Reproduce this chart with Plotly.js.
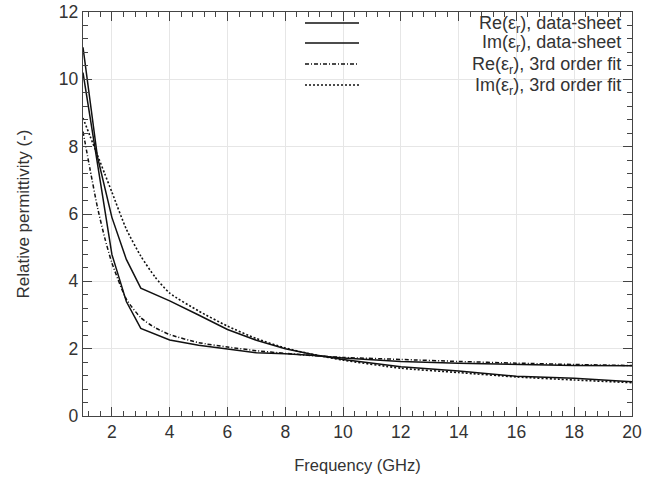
<!DOCTYPE html>
<html>
<head>
<meta charset="utf-8">
<script src="https://cdn.plot.ly/plotly-3.0.1.min.js"></script>
<style>html,body{margin:0;padding:0;background:#fff;}#chart{width:665px;height:487px;}</style>
</head>
<body>
<div id="chart"></div>
<script>
// Data-sheet values
const freqSheet = [1, 1.5, 2, 2.5, 3, 4, 5, 6, 7, 8, 9, 10, 12, 14, 16, 18, 20];
const reSheet   = [10.2, 7.5, 4.8, 3.4, 2.6, 2.26, 2.1, 1.99, 1.88, 1.85, 1.8, 1.72, 1.62, 1.57, 1.53, 1.5, 1.49];
const imSheet   = [10.95, 7.7, 5.9, 4.65, 3.8, 3.42, 3.0, 2.57, 2.25, 2.0, 1.82, 1.68, 1.46, 1.34, 1.18, 1.12, 1.02];
// 3rd order fit values
const freqFit = [1, 1.25, 1.5, 1.75, 2, 2.5, 3, 3.5, 4, 5, 6, 7, 8, 9, 10, 12, 14, 16, 18, 20];
const reFit   = [8.45, 7.3, 6.2, 5.3, 4.55, 3.47, 2.92, 2.62, 2.42, 2.18, 2.05, 1.94, 1.86, 1.79, 1.74, 1.68, 1.62, 1.57, 1.53, 1.5];
const imFit   = [8.85, 8.3, 7.75, 7.2, 6.65, 5.55, 4.75, 4.12, 3.65, 3.12, 2.67, 2.3, 2.02, 1.82, 1.66, 1.42, 1.29, 1.16, 1.07, 0.99];
// Labels
const seriesNames = [
  'Re(ε<sub>r</sub>), data-sheet',
  'Im(ε<sub>r</sub>), data-sheet',
  'Re(ε<sub>r</sub>), 3rd order fit',
  'Im(ε<sub>r</sub>), 3rd order fit'
];
const xTitle = 'Frequency (GHz)';
const yTitle = 'Relative permittivity (-)';

const dashes = ['solid', 'solid', '4px,2px,1px,2px', '2px,2px'];
const textColor = '#333';
const fontFam = 'Liberation Sans, Arial, sans-serif';

const traces = [
  {x: freqSheet, y: reSheet, name: seriesNames[0], mode: 'lines', line: {color: '#111', width: 1.5, dash: dashes[0]}},
  {x: freqSheet, y: imSheet, name: seriesNames[1], mode: 'lines', line: {color: '#111', width: 1.5, dash: dashes[1]}},
  {x: freqFit, y: reFit, name: seriesNames[2], mode: 'lines', line: {color: '#111', width: 1.5, dash: dashes[2], shape: 'spline', smoothing: 0.6}},
  {x: freqFit, y: imFit, name: seriesNames[3], mode: 'lines', line: {color: '#111', width: 1.6, dash: dashes[3], shape: 'spline', smoothing: 0.6}}
];

// Manual gnuplot-style key (text right, sample left)
const L = 83, R = 632, T = 12, B = 416;
const px = v => (v - L) / (R - L);
const py = v => (B - v) / (B - T);
const rowY = [23, 43, 64, 85];
const shapes = [{
  type: 'rect', xref: 'paper', yref: 'paper', layer: 'between',
  x0: px(296), x1: px(625), y0: py(96), y1: py(15),
  fillcolor: '#fff', line: {width: 0}
}];
const annotations = [];
rowY.forEach((yy, i) => {
  shapes.push({type: 'line', xref: 'paper', yref: 'paper', x0: px(305), x1: px(359), y0: py(yy), y1: py(yy),
    line: {color: '#111', width: 1.5, dash: dashes[i]}});
  annotations.push({xref: 'paper', yref: 'paper', x: px(623), y: py(yy + 1), xanchor: 'right', yanchor: 'middle',
    text: seriesNames[i], showarrow: false, font: {size: 18, color: textColor, family: fontFam}});
});

const axisCommon = {
  showline: true, linecolor: '#444', linewidth: 1.2, mirror: 'allticks',
  ticks: 'inside', ticklen: 9, tickwidth: 1, tickcolor: '#444',
  showgrid: true, gridcolor: '#e6e6e6', gridwidth: 1, zeroline: false,
  tickfont: {size: 17.5, color: textColor, family: fontFam},
  minor: {dtick: 0.4, tick0: 0, ticks: 'inside', ticklen: 5, tickwidth: 1, tickcolor: '#444', showgrid: false}
};

const layout = {
  width: 665, height: 487,
  margin: {l: L, r: 665 - R, t: T, b: 487 - B},
  paper_bgcolor: '#fff', plot_bgcolor: '#fff',
  font: {family: fontFam, color: textColor, size: 17},
  showlegend: false,
  xaxis: Object.assign({}, axisCommon, {range: [1, 20], dtick: 2, tick0: 0,
    title: {text: xTitle, font: {size: 16.5, color: textColor, family: fontFam}, standoff: 18}}),
  yaxis: Object.assign({}, axisCommon, {range: [0, 12], dtick: 2, tick0: 0,
    title: {text: yTitle, font: {size: 17, color: textColor, family: fontFam}, standoff: 24}}),
  shapes: shapes,
  annotations: annotations
};

Plotly.newPlot('chart', traces, layout, {staticPlot: true, displayModeBar: false});
</script>
</body>
</html>
